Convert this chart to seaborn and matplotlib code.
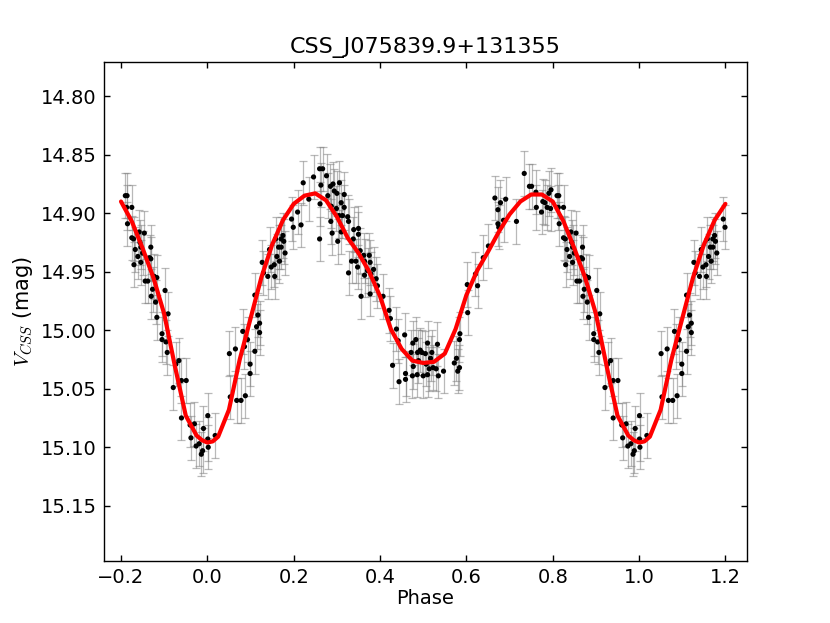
import numpy as np
import pandas as pd
import matplotlib
matplotlib.use("Agg")
import matplotlib.pyplot as plt
from matplotlib.ticker import FixedLocator
import seaborn as sns

title = "CSS_J075839.9+131355"
xlabel = "Phase"
ylabel = r"$V_{CSS}$ (mag)"

phase = [0.001, 0.001, 0.002, 0.018, 0.051, 0.053, 0.065, 0.068, 0.078, 0.082,
         0.086, 0.088, 0.093, 0.099, 0.099, 0.110, 0.110, 0.114, 0.117, 0.121,
         0.121, 0.127, 0.130, 0.140, 0.144, 0.148, 0.155, 0.156, 0.158, 0.161,
         0.165, 0.167, 0.171, 0.171, 0.175, 0.177, 0.180, 0.195, 0.199, 0.209,
         0.217, 0.222, 0.235,
         0.246, 0.260, 0.267, 0.263, 0.261, 0.260, 0.276, 0.279, 0.285, 0.287,
         0.286, 0.291, 0.294, 0.300, 0.289, 0.299, 0.306, 0.305, 0.302, 0.310,
         0.313, 0.317, 0.317, 0.310, 0.325, 0.327, 0.339, 0.338, 0.350, 0.350,
         0.344, 0.334, 0.327, 0.348, 0.354, 0.362, 0.364, 0.364, 0.356, 0.375,
         0.377, 0.371, 0.379, 0.385, 0.377, 0.391, 0.394, 0.407, 0.421, 0.424,
         0.438, 0.442, 0.457, 0.429, 0.444, 0.459, 0.459, 0.472, 0.476, 0.475,
         0.477, 0.483, 0.486, 0.487, 0.489, 0.493, 0.497, 0.500, 0.505, 0.507,
         0.510, 0.510, 0.514, 0.517, 0.520, 0.523, 0.530, 0.533, 0.535, 0.547,
         0.572, 0.577, 0.580, 0.584, 0.585, 0.584, 0.603, 0.602, 0.626, 0.621,
         0.639, 0.651, 0.666, 0.673, 0.679, 0.691, 0.673, 0.675, 0.686, 0.716,
         0.734, 0.746, 0.751, 0.762, 0.761, 0.774, 0.777, 0.782, 0.787, 0.791,
         0.796, 0.795, 0.810, 0.814, 0.813, 0.825, 0.815, 0.825, 0.829, 0.842,
         0.854, 0.833, 0.839, 0.844, 0.846, 0.830, 0.846, 0.850, 0.869, 0.866,
         0.869, 0.856, 0.862, 0.877, 0.883, 0.873, 0.870, 0.880, 0.902, 0.883,
         0.909, 0.895, 0.895, 0.904, 0.907, 0.927, 0.934, 0.921, 0.940, 0.951,
         0.940, 0.960, 0.970, 0.962, 0.974, 0.981, 0.986, 0.989, 0.991]
mag = [15.073, 15.093, 15.100, 15.090, 15.020, 15.057, 15.016, 15.060, 15.060, 15.001,
       15.014, 15.056, 15.008, 15.029, 15.037, 15.018, 14.970, 14.997, 14.987, 14.994,
       15.002, 14.942, 14.951, 14.954, 14.931, 14.946, 14.944, 14.954, 14.922, 14.937,
       14.929, 14.941, 14.929, 14.922, 14.919, 14.924, 14.934, 14.905, 14.912, 14.899,
       14.910, 14.874, 14.888,
       14.869, 14.862, 14.862, 14.876, 14.892, 14.922, 14.868, 14.885, 14.877, 14.894,
       14.907, 14.875, 14.881, 14.883, 14.917, 14.896, 14.874, 14.902, 14.924, 14.891,
       14.902, 14.895, 14.884, 14.916, 14.903, 14.907, 14.914, 14.922, 14.913, 14.918,
       14.941, 14.941, 14.951, 14.946, 14.932, 14.936, 14.941, 14.953, 14.971, 14.936,
       14.942, 14.949, 14.952, 14.948, 14.969, 14.956, 14.962, 14.971, 14.983, 14.990,
       14.999, 15.009, 15.004, 15.030, 15.044, 15.037, 15.042, 15.019, 15.011, 15.039,
       15.031, 15.008, 15.038, 15.019, 15.026, 15.017, 15.019, 15.039, 15.020, 15.029,
       15.011, 15.038, 15.033, 15.024, 15.019, 15.032, 15.033, 15.012, 15.039, 15.035,
       15.028, 15.024, 15.035, 15.032, 15.003, 15.008, 14.985, 14.961, 14.962, 14.952,
       14.938, 14.928, 14.887, 14.897, 14.891, 14.888, 14.909, 14.912, 14.906, 14.907,
       14.866, 14.877, 14.877, 14.895, 14.882, 14.899, 14.890, 14.891, 14.895, 14.883,
       14.880, 14.896, 14.885, 14.885, 14.895, 14.895, 14.909, 14.921, 14.922, 14.916,
       14.917, 14.931, 14.937, 14.925, 14.929, 14.944, 14.942, 14.934, 14.929, 14.938,
       14.939, 14.958, 14.958, 14.954, 14.955, 14.965, 14.971, 14.976, 14.966, 14.989,
       14.986, 15.003, 15.008, 15.010, 15.019, 15.029, 15.026, 15.049, 15.043, 15.043,
       15.075, 15.081, 15.080, 15.092, 15.099, 15.097, 15.106, 15.103, 15.084]
mag_err = 0.019

# fitted model curve, phase 0..1
fit_phase = [0.000, 0.0125, 0.025, 0.050, 0.075, 0.100, 0.125, 0.150, 0.175, 0.200, 0.225,
             0.250, 0.275, 0.300, 0.325, 0.350, 0.375, 0.400, 0.425, 0.450, 0.475,
             0.500, 0.525, 0.550, 0.575, 0.600, 0.625, 0.650, 0.675, 0.700, 0.725,
             0.750, 0.775, 0.800, 0.825, 0.850, 0.875, 0.900, 0.925, 0.950, 0.975,
             0.9875, 1.000]
fit_mag = [15.096, 15.095, 15.091, 15.068, 15.025, 14.990, 14.955, 14.927, 14.906, 14.892, 14.885,
           14.883, 14.889, 14.903, 14.921, 14.934, 14.950, 14.971, 14.999, 15.016, 15.026,
           15.028, 15.027, 15.020, 14.999, 14.970, 14.949, 14.933, 14.916, 14.901, 14.890,
           14.884, 14.884, 14.890, 14.907, 14.930, 14.955, 14.986, 15.031, 15.073, 15.090,
           15.094, 15.096]

xticks = [-0.2, 0.0, 0.2, 0.4, 0.6, 0.8, 1.0, 1.2]
xtick_labels = ["\u22120.2", "0.0", "0.2", "0.4", "0.6", "0.8", "1.0", "1.2"]
yticks = [14.80, 14.85, 14.90, 14.95, 15.00, 15.05, 15.10, 15.15]
ytick_labels = ["14.80", "14.85", "14.90", "14.95", "15.00", "15.05", "15.10", "15.15"]

sns.set_style("ticks", {"xtick.direction": "in", "ytick.direction": "in",
                        "axes.edgecolor": "black", "axes.linewidth": 1.0,
                        "text.color": "black", "axes.labelcolor": "black",
                        "xtick.color": "black", "ytick.color": "black"})
plt.rcParams["font.family"] = ["DejaVu Sans"]
plt.rcParams["mathtext.fontset"] = "cm"

# fold data to cover -0.2 .. 1.2
ph = np.array(phase)
mg = np.array(mag)
lo = ph >= 0.8
hi = ph <= 0.2
df = pd.DataFrame({
    "phase": np.concatenate([ph[lo] - 1, ph, ph[hi] + 1]),
    "mag": np.concatenate([mg[lo], mg, mg[hi]]),
})
fp = np.array(fit_phase)
fm = np.array(fit_mag)
flo = (fp >= 0.8) & (fp < 1.0)
fhi = (fp > 0.0) & (fp <= 0.2)
fit_df = pd.DataFrame({
    "phase": np.concatenate([fp[flo] - 1, fp, fp[fhi] + 1]),
    "mag": np.concatenate([fm[flo], fm, fm[fhi]]),
}).sort_values("phase")

fig, ax = plt.subplots(figsize=(8.3, 6.23), dpi=100)
fig.subplots_adjust(left=0.125, right=0.9, bottom=0.1, top=0.9)

ax.errorbar(df["phase"], df["mag"], yerr=mag_err, fmt="none", ecolor="gray",
            elinewidth=0.9, capsize=3, capthick=0.9, alpha=0.55, zorder=1)
sns.scatterplot(data=df, x="phase", y="mag", color="black", s=14,
                edgecolor="none", linewidth=0, zorder=2, ax=ax, legend=False)
sns.lineplot(data=fit_df, x="phase", y="mag", color="red", linewidth=3,
             estimator=None, sort=True, zorder=3, ax=ax, legend=False)

ax.set_xlim(-0.24, 1.25)
ax.set_ylim(15.197, 14.771)
ax.xaxis.set_major_locator(FixedLocator(xticks))
ax.set_xticklabels(xtick_labels)
ax.yaxis.set_major_locator(FixedLocator(yticks))
ax.set_yticklabels(ytick_labels)
ax.tick_params(axis="both", which="major", direction="in", length=4, width=1,
               labelsize=14, top=True, right=True, pad=5, colors="black")
ax.minorticks_off()
for s in ax.spines.values():
    s.set_visible(True)
    s.set_linewidth(1.0)
    s.set_color("black")

ax.set_title(title, fontsize=16, pad=7, color="black")
ax.set_xlabel(xlabel, fontsize=14, labelpad=2, color="black")
ax.set_ylabel(ylabel, fontsize=15, labelpad=4, color="black")

fig.savefig("out.png", dpi=100)
